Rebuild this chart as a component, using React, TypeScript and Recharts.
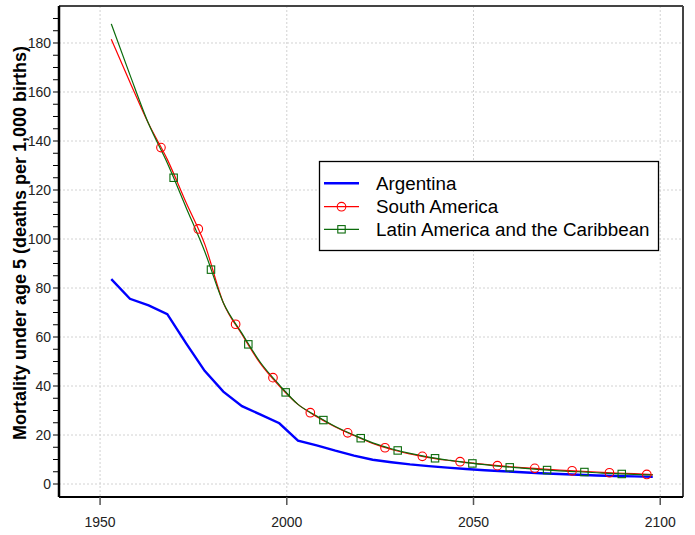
import React from 'react';
import { ComposedChart, Line, Scatter, XAxis, YAxis, CartesianGrid, ReferenceLine } from 'recharts';

const years = [1953, 1958, 1963, 1968, 1973, 1978, 1983, 1988, 1993, 1998, 2003, 2008, 2013, 2018, 2023, 2028, 2033, 2038, 2043, 2048, 2053, 2058, 2063, 2068, 2073, 2078, 2083, 2088, 2093, 2098];
const argentina = [83.6, 75.6, 72.9, 69.3, 57.5, 46.2, 37.7, 31.8, 28.3, 24.8, 17.7, 15.8, 13.6, 11.6, 9.9, 8.9, 8.0, 7.3, 6.7, 6.1, 5.6, 5.2, 4.8, 4.4, 4.1, 3.8, 3.5, 3.3, 3.1, 2.9];
const southAmerica = [181.5, 164, 147, 132.5, 115, 98, 74, 61, 49, 40, 32.5, 27.5, 23.3, 19.8, 16.6, 14.1, 12.3, 10.8, 9.7, 8.8, 8.0, 7.3, 6.7, 6.2, 5.7, 5.3, 4.9, 4.5, 4.2, 3.8];
const latinAmerica = [187.8, 167, 147, 131, 113, 95, 74, 61.5, 49.5, 40.5, 32.5, 27.8, 23.5, 20.0, 16.8, 14.4, 12.5, 11.0, 9.8, 8.7, 7.9, 7.1, 6.5, 5.9, 5.4, 5.0, 4.6, 4.2, 3.9, 3.7];

const saMarkerYears = [1966.3, 1976.3, 1986.3, 1996.3, 2006.3, 2016.3, 2026.3, 2036.3, 2046.4, 2056.4, 2066.4, 2076.4, 2086.4, 2096.4];
const saMarkerValues = [137.3, 104.1, 65.2, 43.4, 29.1, 20.9, 14.8, 11.3, 9.1, 7.5, 6.4, 5.4, 4.6, 3.9];
const lacMarkerYears = [1969.7, 1979.7, 1989.7, 1999.7, 2009.8, 2019.8, 2029.7, 2039.7, 2049.7, 2059.7, 2069.7, 2079.7, 2089.7];
const lacMarkerValues = [125.0, 87.5, 57.0, 37.4, 26.1, 18.7, 13.7, 10.5, 8.4, 6.8, 5.7, 4.9, 4.1];

const xTicks = [1950, 2000, 2050, 2100];
const yLabelTicks = [0, 20, 40, 60, 80, 100, 120, 140, 160, 180];
const yMinorTicks = [0, 5, 10, 15, 20, 25, 30, 35, 40, 45, 50, 55, 60, 65, 70, 75, 80, 85, 90, 95, 100, 105, 110, 115, 120, 125, 130, 135, 140, 145, 150, 155, 160, 165, 170, 175, 180, 185, 190];

const seriesNames = ['Argentina', 'South America', 'Latin America and the Caribbean'];
const yTitle = 'Mortality under age 5 (deaths per 1,000 births)';

const X_DOMAIN: [number, number] = [1939, 2106.1];
const Y_DOMAIN: [number, number] = [-5.3, 195.1];

const BLUE = '#0000ff';
const RED = '#ff0000';
const GREEN = '#0b6b0b';
const FONT = '"Liberation Sans", Arial, Helvetica, sans-serif';

const data = years.map((y, i) => ({ year: y, arg: argentina[i], sa: southAmerica[i], lac: latinAmerica[i] }));
const saMarkers = saMarkerYears.map((y, i) => ({ year: y, v: saMarkerValues[i] }));
const lacMarkers = lacMarkerYears.map((y, i) => ({ year: y, v: lacMarkerValues[i] }));

const Circle = (props: any) => (
  <circle cx={props.cx} cy={props.cy} r={4.3} fill="none" stroke={RED} strokeWidth={1.1} />
);
const Square = (props: any) => (
  <rect x={props.cx - 3.7} y={props.cy - 3.7} width={7.4} height={7.4} fill="none" stroke={GREEN} strokeWidth={1.1} />
);

export default function App() {
  return (
    <div style={{ position: 'absolute', left: 0, top: 0, width: 695, height: 535, background: '#fff' }}>
      <ComposedChart
        width={695}
        height={535}
        data={data}
        margin={{ top: 6, right: 12, bottom: 0, left: 0 }}
      >
        <CartesianGrid
          stroke="#d2d2d2"
          strokeDasharray="2 2"
          horizontalValues={yLabelTicks}
          verticalValues={xTicks}
        />
        <XAxis
          type="number"
          dataKey="year"
          domain={X_DOMAIN}
          allowDataOverflow
          ticks={xTicks}
          height={38}
          tickSize={8}
          tickMargin={12}
          axisLine={{ stroke: '#000', strokeWidth: 2 }}
          tickLine={{ stroke: '#555', strokeWidth: 1.5 }}
          tick={{ fontSize: 14, fill: '#222', fontFamily: FONT }}
        />
        <YAxis
          type="number"
          domain={Y_DOMAIN}
          allowDataOverflow
          ticks={yMinorTicks}
          interval={0}
          width={59}
          tickSize={6}
          tickMargin={2}
          tickFormatter={(v: number) => (v % 20 === 0 ? String(v) : '')}
          axisLine={{ stroke: '#000', strokeWidth: 2.5 }}
          tickLine={{ stroke: '#000', strokeWidth: 1 }}
          tick={{ fontSize: 14, fill: '#222', fontFamily: FONT }}
        />
        <ReferenceLine x={X_DOMAIN[1]} stroke="#444" strokeWidth={2} />
        <ReferenceLine y={Y_DOMAIN[1]} stroke="#444" strokeWidth={2} />
        <Line type="linear" dataKey="arg" stroke={BLUE} strokeWidth={2.4} dot={false} isAnimationActive={false} />
        <Line type="monotone" dataKey="sa" stroke={RED} strokeWidth={1.2} dot={false} isAnimationActive={false} />
        <Line type="monotone" dataKey="lac" stroke={GREEN} strokeWidth={1.2} dot={false} isAnimationActive={false} />
        <Scatter data={saMarkers} dataKey="v" shape={Circle} isAnimationActive={false} />
        <Scatter data={lacMarkers} dataKey="v" shape={Square} isAnimationActive={false} />
      </ComposedChart>
      <svg width={695} height={535} style={{ position: 'absolute', left: 0, top: 0, pointerEvents: 'none' }}>
        <text
          x={25.5}
          y={243}
          transform="rotate(-90 25.5 243)"
          textAnchor="middle"
          fontFamily={FONT}
          fontWeight="bold"
          fontSize={18}
          fill="#000"
        >
          {yTitle}
        </text>
        <rect x={319.5} y={161.5} width={339} height={89} fill="#fff" stroke="#000" strokeWidth={1.3} />
        <line x1={324} x2={359} y1={183.3} y2={183.3} stroke={BLUE} strokeWidth={2.4} />
        <line x1={324} x2={359} y1={206.7} y2={206.7} stroke={RED} strokeWidth={1.2} />
        <circle cx={341.5} cy={206.7} r={4.3} fill="none" stroke={RED} strokeWidth={1.1} />
        <line x1={324} x2={359} y1={229.3} y2={229.3} stroke={GREEN} strokeWidth={1.2} />
        <rect x={337.8} y={225.6} width={7.4} height={7.4} fill="none" stroke={GREEN} strokeWidth={1.1} />
        {seriesNames.map((n, i) => (
          <text key={n} x={376} y={189.5 + i * 23.3} fontFamily={FONT} fontSize={18.8} fill="#000">
            {n}
          </text>
        ))}
      </svg>
    </div>
  );
}
